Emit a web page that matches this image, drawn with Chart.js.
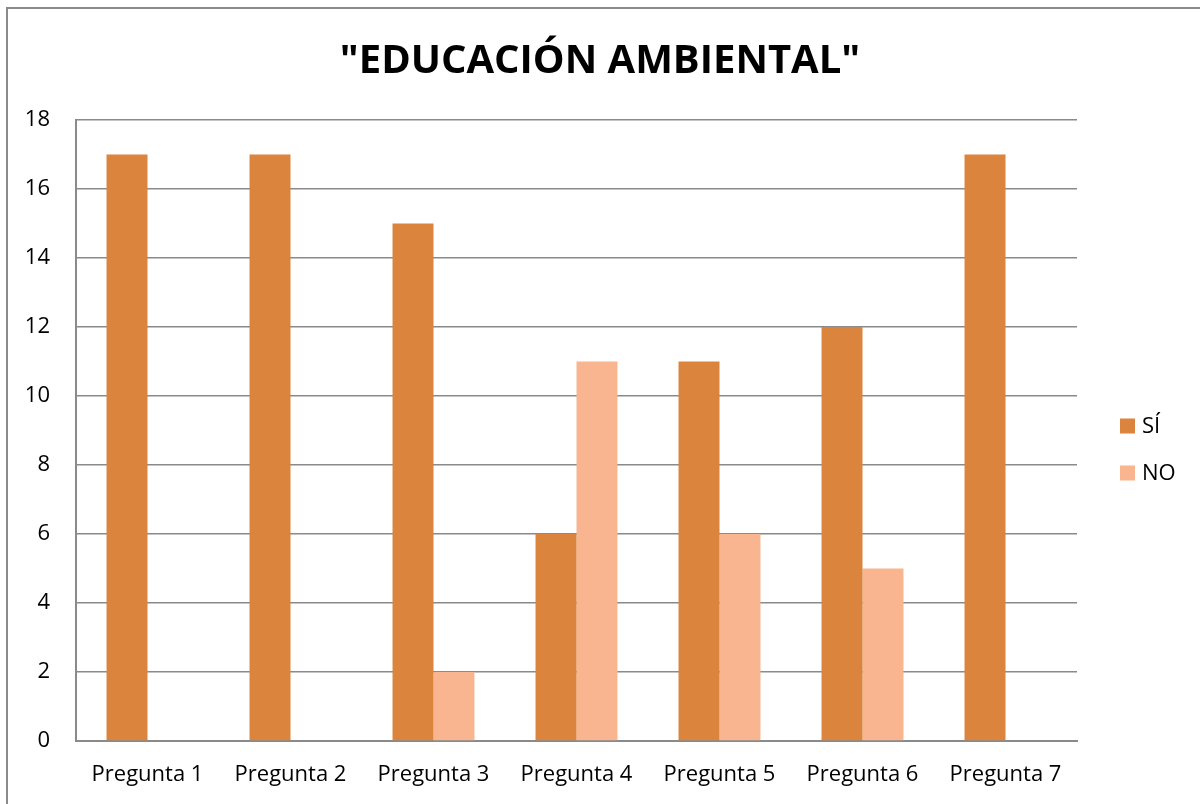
<!DOCTYPE html>
<html lang="es">
<head>
    <meta charset="UTF-8">
    <title>Educación ambiental</title>
    <script src="https://cdn.jsdelivr.net/npm/chart.js"></script>
    <style>
        body {
            margin: 0;
            background: #fff;
            font-family: "Open Sans", Arial;
        }
        #frame {
            position: absolute;
            left: 6px;
            top: 7px;
            width: 1300px;
            height: 900px;
            border-top: 2px solid #8a8a8a;
            border-left: 2px solid #8a8a8a;
        }
        canvas {
            position: absolute;
            left: 0;
            top: 0;
        }
    </style>
</head>
<body>

<div id="frame"></div>
<canvas id="myChart" width="1200" height="804"></canvas>

<script>
// datos
const categorias = ['Pregunta 1', 'Pregunta 2', 'Pregunta 3', 'Pregunta 4', 'Pregunta 5', 'Pregunta 6', 'Pregunta 7'];
const valoresSi = [17, 17, 15, 6, 11, 12, 17];
const valoresNo = [0, 0, 2, 11, 6, 5, 0];
const etiquetasSerie = ['SÍ', 'NO'];
const coloresSerie = ['#db843d', '#f8b590'];
const titulo = '"EDUCACIÓN AMBIENTAL"';

const gris = '#8a8a8a';
const fuente = '"Open Sans", Arial';

// leyenda a la derecha, dibujada a mano para colocarla como en el original
const leyendaDerecha = {
    id: 'leyendaDerecha',
    afterDraw(chart) {
        const c = chart.ctx;
        const ys = [426, 473];
        c.save();
        c.font = '22px ' + fuente;
        c.textBaseline = 'middle';
        c.textAlign = 'left';
        chart.data.datasets.forEach((ds, i) => {
            c.fillStyle = ds.backgroundColor;
            c.fillRect(1120, ys[i] - 7.5, 15, 15);
            c.fillStyle = '#000';
            c.fillText(ds.label, 1142, ys[i] + 1);
        });
        c.restore();
    }
};

const ctx = document.getElementById('myChart').getContext('2d');
const chart = new Chart(ctx, {
    type: 'bar',
    data: {
        labels: categorias,
        datasets: [
            {
                label: etiquetasSerie[0],
                data: valoresSi,
                backgroundColor: coloresSerie[0],
                categoryPercentage: 0.573,
                barPercentage: 1
            },
            {
                label: etiquetasSerie[1],
                data: valoresNo,
                backgroundColor: coloresSerie[1],
                categoryPercentage: 0.573,
                barPercentage: 1
            }
        ]
    },
    options: {
        responsive: false,
        animation: false,
        layout: {
            padding: { left: 25, right: 25, top: 38, bottom: 0 }
        },
        scales: {
            x: {
                grid: { display: false, drawTicks: false },
                border: { display: true, color: gris, width: 2 },
                ticks: {
                    color: '#000',
                    padding: 21,
                    font: { family: fuente, size: 22 }
                },
                afterFit(scale) {
                    scale.height = 63;
                    scale.paddingLeft = 0;
                    scale.paddingRight = 0;
                }
            },
            y: {
                min: 0,
                max: 18,
                grid: { color: gris, lineWidth: 1.5, drawTicks: false },
                border: { display: true, color: gris, width: 2 },
                ticks: {
                    stepSize: 2,
                    color: '#000',
                    padding: 26,
                    font: { family: fuente, size: 22 }
                },
                afterFit(scale) {
                    scale.width = 51;
                }
            },
            // espacio vacío a la derecha donde va la leyenda
            hueco: {
                position: 'right',
                display: true,
                grid: { display: false, drawTicks: false },
                border: { display: false },
                ticks: { display: false },
                afterFit(scale) {
                    scale.width = 98;
                }
            }
        },
        plugins: {
            title: {
                display: true,
                text: titulo,
                color: '#000',
                font: { family: fuente, size: 40, weight: 'bold' },
                padding: { top: 0, bottom: 34 }
            },
            legend: { display: false },
            tooltip: { enabled: false }
        }
    },
    plugins: [leyendaDerecha]
});
</script>

</body>
</html>
